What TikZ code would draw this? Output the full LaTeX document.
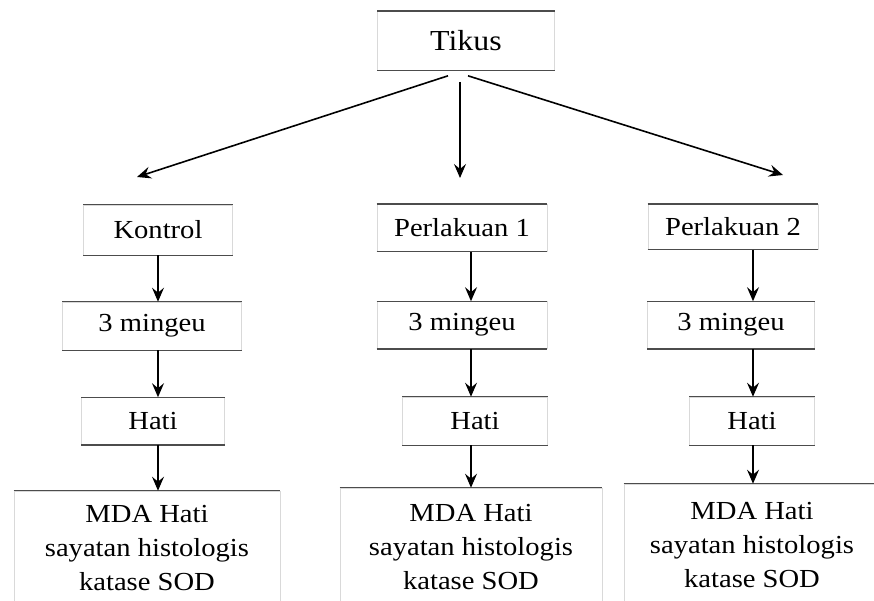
\documentclass[tikz,border=0pt]{standalone}
\usepackage{fontspec}
\setmainfont[FakeStretch=1.1]{Liberation Serif}
\usetikzlibrary{arrows.meta}

\begin{document}
\begin{tikzpicture}[
  x=1pt,
  y=-1pt, % <-- pixel-like coordinates, downwards
  >={Stealth[length=14pt,width=12pt,inset=5pt]},
  every node/.style={font=\fontsize{26}{34}\selectfont, text=black},
  box/.style={draw=gray!30, line width=0.6pt, fill=white, inner sep=0pt, align=center},
  rule/.style={black!70, line width=1.4pt},
  link/.style={->, black, line width=1.1pt},
  fan/.style={->, black, line width=1.6pt}
]
\useasboundingbox (0,0) rectangle (874,601);

% Top box
\node[box, minimum width=177, minimum height=59, font=\fontsize{29}{34}\selectfont] (tikus) at (466,41) {Tikus};

% Column anchors
\coordinate (colA) at (158,0);
\coordinate (colB) at (471,0);
\coordinate (colC) at (753,0);

% --- Row 1: groups ---
\node[box, minimum width=149, minimum height=50] (kontrol) at (158,230) {Kontrol};
\node[box, minimum width=170, minimum height=47] (perlakuanA) at (462,228) {Perlakuan 1};
\node[box, minimum width=170, minimum height=45] (perlakuanB) at (733,227) {Perlakuan 2};

% --- Row 2: duration ---
\node[box, minimum width=179, minimum height=48] (mingguA) at (152,326) {3 mingeu};
\node[box, minimum width=170, minimum height=47] (mingguB) at (462,325) {3 mingeu};
\node[box, minimum width=167, minimum height=47] (mingguC) at (731,325) {3 mingeu};

% --- Row 3: organ ---
\node[box, minimum width=143, minimum height=47] (hatiA) at (153,421) {Hati};
\node[box, minimum width=145, minimum height=48] (hatiB) at (475,421) {Hati};
\node[box, minimum width=125, minimum height=48] (hatiC) at (752,421) {Hati};

% --- Row 4: measurements ---
\node[box, minimum width=266, minimum height=114] (hasilA) at (147,548) {MDA Hati\\sayatan histologis\\katase SOD};
\node[box, minimum width=262, minimum height=118] (hasilB) at (471,547) {MDA Hati\\sayatan histologis\\katase SOD};
\node[box, minimum width=256, minimum height=122] (hasilC) at (752,545) {MDA Hati\\sayatan histologis\\katase SOD};

% Top and bottom rules of every box
\foreach \n in {tikus,kontrol,perlakuanA,perlakuanB,mingguA,mingguB,mingguC,hatiA,hatiB,hatiC}
  \draw[rule] (\n.north west) -- (\n.north east) (\n.south west) -- (\n.south east);
\foreach \n in {hasilA,hasilB,hasilC}
  \draw[rule] (\n.north west) -- (\n.north east);

% Fan-out from Tikus
\coordinate (fanA) at (137,177);
\coordinate (fanB) at (460,178);
\coordinate (fanC) at (783,175);
\draw[fan] ([xshift=-18pt,yshift=-5pt]tikus.south) -- (fanA);
\draw[link] ([xshift=-6pt,yshift=-11pt]tikus.south) -- (fanB);
\draw[fan] ([xshift=2pt,yshift=-5pt]tikus.south) -- (fanC);

% Column arrows
\draw[link] (kontrol.south -| colA) -- (mingguA.north -| colA);
\draw[link] (mingguA.south -| colA) -- (hatiA.north -| colA);
\draw[link] (hatiA.south -| colA) -- (hasilA.north -| colA);

\draw[link] (perlakuanA.south -| colB) -- (mingguB.north -| colB);
\draw[link] (mingguB.south -| colB) -- (hatiB.north -| colB);
\draw[link] (hatiB.south -| colB) -- (hasilB.north -| colB);

\draw[link] (perlakuanB.south -| colC) -- (mingguC.north -| colC);
\draw[link] (mingguC.south -| colC) -- (hatiC.north -| colC);
\draw[link] (hatiC.south -| colC) -- (hasilC.north -| colC);

\end{tikzpicture}
\end{document}
